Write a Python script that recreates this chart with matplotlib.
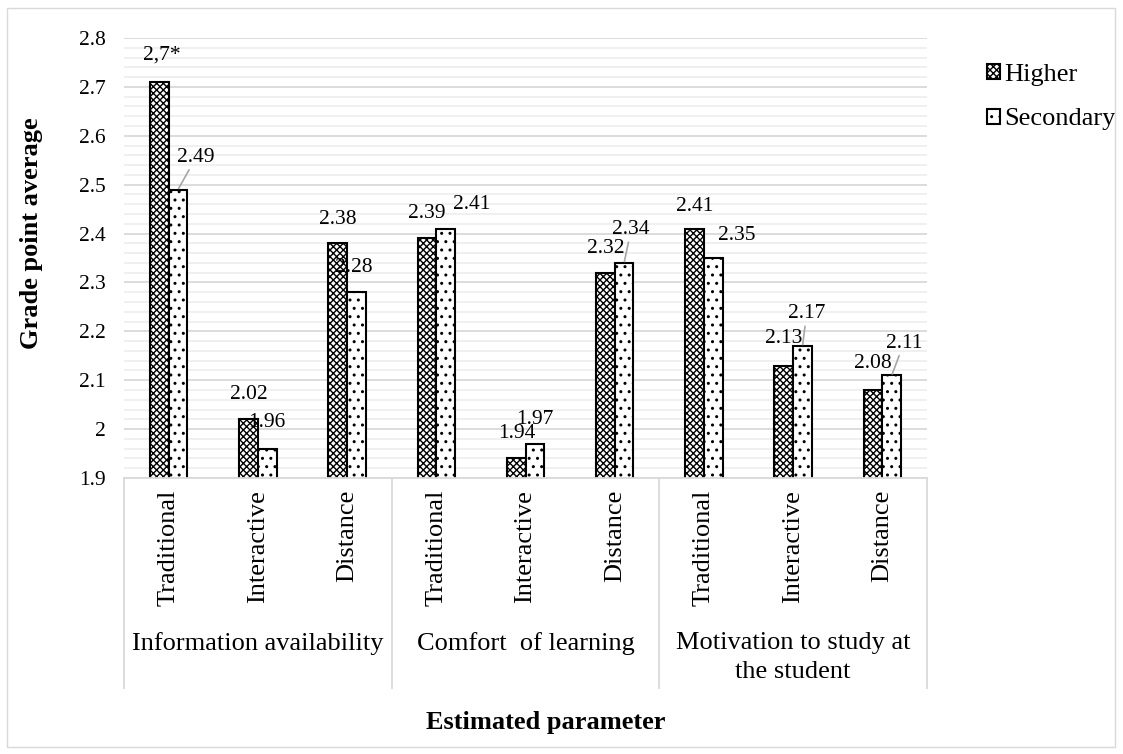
import numpy as np
import matplotlib.pyplot as plt
import matplotlib.transforms as mtransforms
from matplotlib.patches import Rectangle
from matplotlib.ticker import MultipleLocator, FuncFormatter

# --------------------------------------------------------------------------- #
# Data
# --------------------------------------------------------------------------- #
groups = ['Information availability', 'Comfort  of learning',
          'Motivation to study at\nthe student']
methods = ['Traditional', 'Interactive', 'Distance']
series = ['Higher', 'Secondary']
higher = [2.71, 2.02, 2.38, 2.39, 1.94, 2.32, 2.41, 2.13, 2.08]
secondary = [2.49, 1.96, 2.28, 2.41, 1.97, 2.34, 2.35, 2.17, 2.11]

# value label placement, pixels from the top of each bar (dx, dy)
off_h = [(3, 27), (0, 25), (0, 24), (0, 25), (1, 25), (0, 24), (0, 22), (0, 27), (0, 26)]
off_s = [(18, 32), (0, 26), (-3, 25), (26, 24), (0, 24), (7, 33), (23, 22), (4, 32), (12, 32)]
lead_s = [True, False, False, False, False, True, False, True, True]

# --------------------------------------------------------------------------- #
# Style
# --------------------------------------------------------------------------- #
plt.rcParams['font.family'] = ['Liberation Serif', 'DejaVu Serif']
plt.rcParams['hatch.linewidth'] = 1.0
grid_major = '#d9d9d9'
grid_minor = '#efefef'
fs_num = 15.5
fs_txt = 19

W, H = 1123, 754
fig = plt.figure(figsize=(W / 100, H / 100), dpi=100)
ax = fig.add_axes([124 / W, (H - 478) / H, 803 / W, 440 / H])

n = len(higher)
x = np.arange(n)
w = 0.21

bh = ax.bar(x - w / 2, higher, w, color='white', edgecolor='black',
            hatch='xxxxx', linewidth=1.5, label=series[0], zorder=3)
bs = ax.bar(x + w / 2, secondary, w, color='white', edgecolor='black',
            hatch='..', linewidth=1.5, label=series[1], zorder=3)

ax.set_xlim(-0.5, n - 0.5)
ax.set_ylim(1.9, 2.8)
ax.yaxis.set_major_locator(MultipleLocator(0.1))
ax.yaxis.set_minor_locator(MultipleLocator(0.02))
ax.yaxis.set_major_formatter(FuncFormatter(lambda v, p: '{:g}'.format(round(v, 2))))
ax.grid(which='major', axis='y', color=grid_major, lw=1.3)
ax.grid(which='minor', axis='y', color=grid_minor, lw=1.3)
ax.set_axisbelow(True)

for s in ['left', 'right', 'top']:
  ax.spines[s].set_visible(False)
ax.spines['bottom'].set_color(grid_major)
ax.spines['bottom'].set_linewidth(1.3)
ax.spines['bottom'].set_zorder(4)

ax.tick_params(axis='y', which='both', length=0, labelsize=fs_num, pad=13)
ax.set_xticks(x)
ax.set_xticklabels(methods * len(groups), rotation=90, fontsize=fs_txt)
ax.tick_params(axis='x', length=0, pad=8.6)

# --------------------------------------------------------------------------- #
# Value labels
# --------------------------------------------------------------------------- #
for i in range(n):
  txt = '{:.2f}'.format(higher[i])
  if i == 0:
    txt = '{:.1f}'.format(higher[i]).replace('.', ',') + '*'
  ax.annotate(txt, xy=(x[i] - w / 2, higher[i]), xytext=off_h[i],
              textcoords='offset pixels', ha='center', va='center',
              fontsize=fs_num, zorder=5)

  props = None
  if lead_s[i]:
    props = dict(arrowstyle='-', color='#a6a6a6', lw=1.2, shrinkA=0, shrinkB=1)
  ax.annotate('{:.2f}'.format(secondary[i]), xy=(x[i] + w / 2, secondary[i]),
              xytext=off_s[i], textcoords='offset pixels', ha='center',
              va='center', fontsize=fs_num, arrowprops=props, zorder=5)

# --------------------------------------------------------------------------- #
# Grouped category axis
# --------------------------------------------------------------------------- #
trans = mtransforms.blended_transform_factory(ax.transData, ax.transAxes)
depth = 210 / 440
for b in np.arange(len(groups) + 1) * len(methods) - 0.5:
  ax.plot([b, b], [0, -depth], transform=trans, color=grid_major, lw=1.3,
          clip_on=False)

for g, name in enumerate(groups):
  ax.text(g * len(methods) + (len(methods) - 1) / 2, -154 / 440, name,
          transform=trans, ha='center', va='top', fontsize=fs_txt,
          linespacing=1.4)

fig.text(32 / W, 1 - 233 / H, 'Grade point average', rotation=90,
         fontsize=fs_txt, fontweight='bold', ha='center', va='center')
fig.text(546 / W, 1 - 722 / H, 'Estimated parameter',
         fontsize=fs_txt, fontweight='bold', ha='center', va='center')

ax.legend(handles=[bh, bs], loc='upper left',
          bbox_to_anchor=(987 / W, 1 - 64 / H), bbox_transform=fig.transFigure,
          frameon=False, fontsize=fs_txt, handlelength=0.5, handleheight=0.5,
          handletextpad=0.15, labelspacing=0.85, borderpad=0, borderaxespad=0)

# outer chart border
fig.add_artist(Rectangle((7 / W, 7 / H), (1115 - 7) / W, (746 - 7) / H,
                         transform=fig.transFigure, fill=False,
                         edgecolor=grid_major, lw=1.0))

fig.savefig('out.png', dpi=100)
